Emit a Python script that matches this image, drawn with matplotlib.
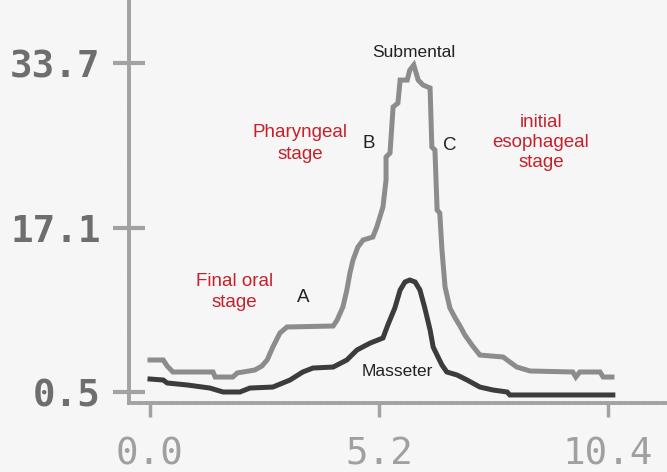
import matplotlib
matplotlib.use("Agg")
import matplotlib.pyplot as plt

# submental (upper, grey) trace
sub_x = [0.00, 0.30, 0.39, 0.52, 1.43, 1.48, 1.88, 1.98, 2.38, 2.54, 2.66, 2.79, 2.95, 3.11,
         4.16, 4.25, 4.38, 4.47, 4.54, 4.61, 4.72, 4.84, 5.06, 5.15, 5.22, 5.29, 5.36, 5.36,
         5.45, 5.52, 5.63, 5.68, 5.84, 5.90, 5.99, 6.09, 6.20, 6.36, 6.40, 6.47, 6.52, 6.58,
         6.63, 6.70, 6.81, 6.93, 7.04, 7.15, 7.31, 7.49, 8.02, 8.17, 8.33, 8.63, 9.60, 9.67,
         9.76, 10.22, 10.29, 10.49]
sub_y = [3.73, 3.73, 3.12, 2.52, 2.52, 2.01, 2.01, 2.42, 2.72, 3.12, 3.73, 5.04, 6.45, 7.06,
         7.16, 7.77, 9.08, 10.79, 12.51, 13.82, 15.13, 15.84, 16.14, 17.15, 18.16, 19.17, 21.89, 24.21,
         24.62, 29.26, 29.66, 31.98, 31.98, 32.99, 33.50, 31.98, 31.48, 31.18, 25.22, 24.92, 18.87, 18.56,
         14.83, 11.10, 8.98, 7.97, 7.16, 6.25, 5.24, 4.23, 4.03, 3.53, 3.02, 2.62, 2.52, 2.01,
         2.52, 2.52, 2.01, 2.01]

# masseter (lower, dark) trace
mas_x = [0.00, 0.30, 0.39, 0.84, 1.36, 1.66, 2.04, 2.27, 2.79, 3.18, 3.47, 3.70, 4.16, 4.47,
         4.70, 5.00, 5.29, 5.40, 5.56, 5.68, 5.79, 5.90, 6.02, 6.13, 6.24, 6.36, 6.43, 6.54,
         6.63, 6.74, 6.97, 7.20, 7.49, 7.79, 8.11, 8.17, 10.51]
mas_y = [1.81, 1.71, 1.41, 1.21, 0.90, 0.50, 0.50, 0.90, 1.00, 1.71, 2.52, 2.92, 3.02, 3.73,
         4.74, 5.44, 5.95, 7.26, 8.98, 10.79, 11.60, 11.80, 11.60, 10.79, 8.98, 6.76, 5.04, 4.03,
         3.22, 2.52, 2.22, 1.71, 1.00, 0.70, 0.50, 0.20, 0.20]

y_ticks = [0.5, 17.1, 33.7]
y_labels = ["0.5", "17.1", "33.7"]
x_ticks = [0.0, 5.2, 10.4]
x_labels = ["0.0", "5.2", "10.4"]

red = "#c8202a"
bg = "#f6f6f6"

fig = plt.figure(figsize=(6.67, 4.72), dpi=100, facecolor=bg)
ax = fig.add_axes([129 / 667, 69 / 472, 538 / 667, 403 / 472], facecolor=bg)

ax.plot(sub_x, sub_y, color="#8c8c8c", lw=3.6, solid_joinstyle="miter")
ax.plot(mas_x, mas_y, color="#3c3c3c", lw=3.6, solid_joinstyle="miter")

ax.set_xlim(-0.477, 11.74)
ax.set_ylim(-0.61, 40.06)

for s in ["top", "right"]:
    ax.spines[s].set_visible(False)
for s in ["left", "bottom"]:
    ax.spines[s].set_color("#a2a2a2")
    ax.spines[s].set_linewidth(2.8)
    ax.spines[s].set_linestyle((0, (1, 0.6)))

ax.set_yticks(y_ticks)
ax.set_yticklabels(y_labels, family="DejaVu Sans Mono", fontweight="bold",
                   fontsize=27, color="#6e6e6e")
ax.set_xticks(x_ticks)
ax.set_xticklabels(x_labels, family="DejaVu Sans Mono", fontsize=27, color="#a0a0a0")
ax.tick_params(axis="y", direction="inout", length=23, width=3, color="#a2a2a2", pad=9)
ax.tick_params(axis="x", direction="out", length=10, width=2.5, color="#a2a2a2", pad=14)
for lbl in ax.get_xticklabels():
    lbl.set_x(lbl.get_position()[0])

# annotations
tx = dict(family="Liberation Sans", ha="center", va="center")
ax.text(5.99, 34.76, "Submental", fontsize=12.5, color="#222222", **tx)
ax.text(5.61, 2.52, "Masseter", fontsize=12.5, color="#222222", **tx)
ax.text(3.41, 25.6, "Pharyngeal\nstage", fontsize=13.5, color=red, linespacing=1.4, **tx)
ax.text(1.91, 10.59, "Final oral\nstage", fontsize=13.5, color=red, linespacing=1.3, **tx)
ax.text(8.88, 25.7, "initial\nesophageal\nstage", fontsize=13.5, color=red, linespacing=1.25, **tx)
ax.text(3.47, 9.99, "A", fontsize=13.5, color="#222222", **tx)
ax.text(4.97, 25.6, "B", fontsize=13.5, color="#222222", **tx)
ax.text(6.81, 25.4, "C", fontsize=13.5, color="#222222", **tx)

fig.savefig("out.png", dpi=100, facecolor=bg)
